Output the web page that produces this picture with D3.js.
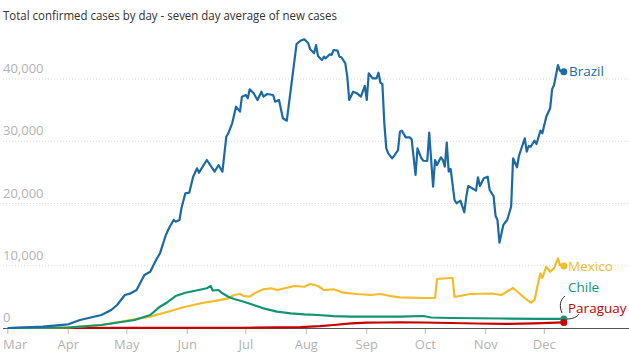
<!DOCTYPE html>
<html><head><meta charset="utf-8">
<script src="https://cdn.jsdelivr.net/npm/d3@7"></script>
<style>
body{margin:0;background:#fff}
svg{display:block}
text{font-family:"Open Sans",sans-serif}
</style>
</head><body>
<svg id="c" width="629" height="355"></svg>
<script>
const title = "Total confirmed cases by day - seven day average of new cases";
const startDate = "2020-03-01";
const monthTicks = ["2020-03-01","2020-04-01","2020-05-01","2020-06-01","2020-07-01","2020-08-01","2020-09-01","2020-10-01","2020-11-01","2020-12-01"];
const monthLabels = ["Mar","Apr","May","Jun","Jul","Aug","Sep","Oct","Nov","Dec"];
const yTicks = [0,10000,20000,30000,40000];
const yTickLabels = ["0","10,000","20,000","30,000","40,000"];
const countries = ["Brazil","Mexico","Chile","Paraguay"];

const brazilDays = [0,18,31,37,48,53,56,60,63,66,70,73,76,78,81,83,85,86,88,89,91,93,95,97,98,102,106,108,110,112,113,115,117,119,120,122,123,124,126,128,130,131,133,136,137,139,141,143,145,148,150,152,154,155,157,158,159,161,162,163,165,166,167,169,170,171,173,174,175,177,179,181,183,184,185,187,189,190,191,192,193,194,195,197,198,200,201,202,204,206,207,209,210,212,213,215,216,218,219,220,222,223,224,225,226,227,229,230,232,234,235,236,238,240,241,242,244,246,247,249,250,251,252,254,255,256,258,259,261,262,263,265,266,267,268,270,271,273,274,276,278,279,280,282,283,285];
const brazilCases = [0,210,590,1290,2090,2890,3690,5300,5570,6100,8510,9040,10920,12000,14940,16270,17350,17080,17350,19230,21640,21740,24300,25650,24950,26990,25110,26180,25110,30730,31280,32880,35550,34750,37160,37430,36900,38350,37700,36630,37960,37160,37590,37430,36350,36630,33690,33300,38230,45620,46150,46380,45740,44770,44130,45460,43690,43050,43580,43320,43970,43860,44660,44550,43580,43490,42520,40370,36630,37960,37700,37160,38880,36630,40920,40110,40110,41010,39410,39200,32880,28870,28060,27260,27630,28590,31530,31690,30630,30630,30310,24580,28870,27260,26870,26830,31370,22700,26990,26180,27420,26990,25910,29770,25110,25540,20560,20030,20450,18590,21090,22810,22440,22060,24210,22810,24050,24300,22170,21200,18040,17350,13700,16550,16980,17350,19490,27260,25820,27630,28590,30470,28320,29240,29120,30090,29560,31690,31280,33940,35290,38350,39040,42250,41330,41170];

const mexicoDays = [0,31,48,65,73,82,90,99,107,113,116,119,121,124,127,131,135,138,142,147,152,155,159,162,167,172,179,186,191,196,201,214,219,220,227,228,229,237,248,253,259,265,268,270,272,273,274,276,278,280,282,283,285];
const mexicoCases = [0,110,480,1400,1820,2620,3330,3970,4390,4770,5300,5460,5140,5030,5670,6220,6380,6100,6380,6750,6630,7070,6750,6100,6220,5670,5460,5300,5460,5140,4930,4820,4820,7870,8030,8030,4980,5460,5540,5300,6430,4820,4060,4500,7440,8790,8030,9850,9040,9590,11200,10120,9960];

const chileDays = [0,31,48,65,73,78,82,86,91,96,99,102,104,105,108,110,113,116,121,126,131,138,145,152,159,167,176,184,201,213,217,227,253,273,285];
const chileCases = [0,80,480,1290,2090,3420,4180,5140,5670,5990,6180,6380,6750,6020,6100,5570,5030,4660,4220,3690,3160,2620,2360,2200,2090,1900,1820,1820,1820,1930,1690,1610,1530,1450,1450];

const paraguayDays = [0,60,120,150,160,167,176,184,193,201,213,227,240,255,270,285];
const paraguayCases = [0,20,40,150,300,480,750,850,880,900,880,800,720,650,750,900];

const colors = {Brazil:"#1b6aa5", Mexico:"#f5bc2a", Chile:"#109473", Paraguay:"#c70000"};

const parse = d3.utcParse("%Y-%m-%d");
const t0 = parse(startDate);
const x = d3.scaleUtc().domain([parse("2020-04-01"), parse("2020-12-01")]).range([68.3, 544.3]);
const y = d3.scaleLinear().domain([0, 40000]).range([328, 79]);

const svg = d3.select("#c");

svg.append("text").attr("x", 3).attr("y", 20).attr("font-size", 13.5).attr("fill", "#333")
  .attr("textLength", 334).attr("lengthAdjust", "spacingAndGlyphs").text(title);

// grid + y labels
const yg = svg.append("g");
yTicks.forEach((v, i) => {
  if (v > 0) {
    yg.append("line").attr("x1", 3).attr("x2", 629).attr("y1", y(v)).attr("y2", y(v))
      .attr("stroke", "#d8d8d8").attr("stroke-dasharray", "1,2");
  }
  yg.append("text").attr("x", 3).attr("y", y(v) - 6).attr("font-size", 13).attr("fill", "#b3b3b3").text(yTickLabels[i]);
});

// x axis
const xg = svg.append("g");
xg.append("line").attr("x1", 3).attr("x2", 629).attr("y1", 328.5).attr("y2", 328.5).attr("stroke", "#555").attr("stroke-width", 1);
monthTicks.forEach((m, i) => {
  const px = x(parse(m));
  xg.append("line").attr("x1", px).attr("x2", px).attr("y1", 329).attr("y2", 334).attr("stroke", "#bbb");
  xg.append("text").attr("x", i === 0 ? 3 : px).attr("y", 349).attr("font-size", 13)
    .attr("text-anchor", i === 0 ? "start" : "middle").attr("fill", "#b3b3b3").text(monthLabels[i]);
});

const series = {
  Brazil: [brazilDays, brazilCases],
  Mexico: [mexicoDays, mexicoCases],
  Chile: [chileDays, chileCases],
  Paraguay: [paraguayDays, paraguayCases]
};
const line = d3.line().x(d => x(d3.utcDay.offset(t0, d[0]))).y(d => y(d[1])).curve(d3.curveLinear);
const drawOrder = ["Paraguay","Mexico","Chile","Brazil"];
drawOrder.forEach(c => {
  const [ds, vs] = series[c];
  const pts = ds.map((d, i) => [d, vs[i]]);
  svg.append("path").datum(pts).attr("d", line).attr("fill", "none")
    .attr("stroke", colors[c]).attr("stroke-width", 2.2).attr("stroke-linejoin", "round");
});
["Mexico","Brazil","Chile","Paraguay"].forEach(c => {
  const [ds, vs] = series[c];
  const n = ds.length - 1;
  svg.append("circle").attr("cx", x(d3.utcDay.offset(t0, ds[n]))).attr("cy", y(vs[n])).attr("r", 3.5).attr("fill", colors[c]);
});

// labels
const lab = [
  {c:"Brazil", x:569, y:71},
  {c:"Mexico", x:568, y:266},
  {c:"Chile", x:568, y:287},
  {c:"Paraguay", x:568, y:308}
];
lab.forEach(l => {
  svg.append("text").attr("x", l.x).attr("y", l.y).attr("dy", "0.35em").attr("font-size", 13.5)
    .attr("font-weight", 500).attr("fill", colors[l.c]).text(l.c);
});
// leader lines
svg.append("path").attr("d", "M562,313 C559,306 560,300 565,296").attr("fill", "none").attr("stroke", "#333").attr("stroke-width", 1);
svg.append("path").attr("d", "M567,319 C573,319 577,317 579,314").attr("fill", "none").attr("stroke", "#333").attr("stroke-width", 1);
</script>
</body></html>
